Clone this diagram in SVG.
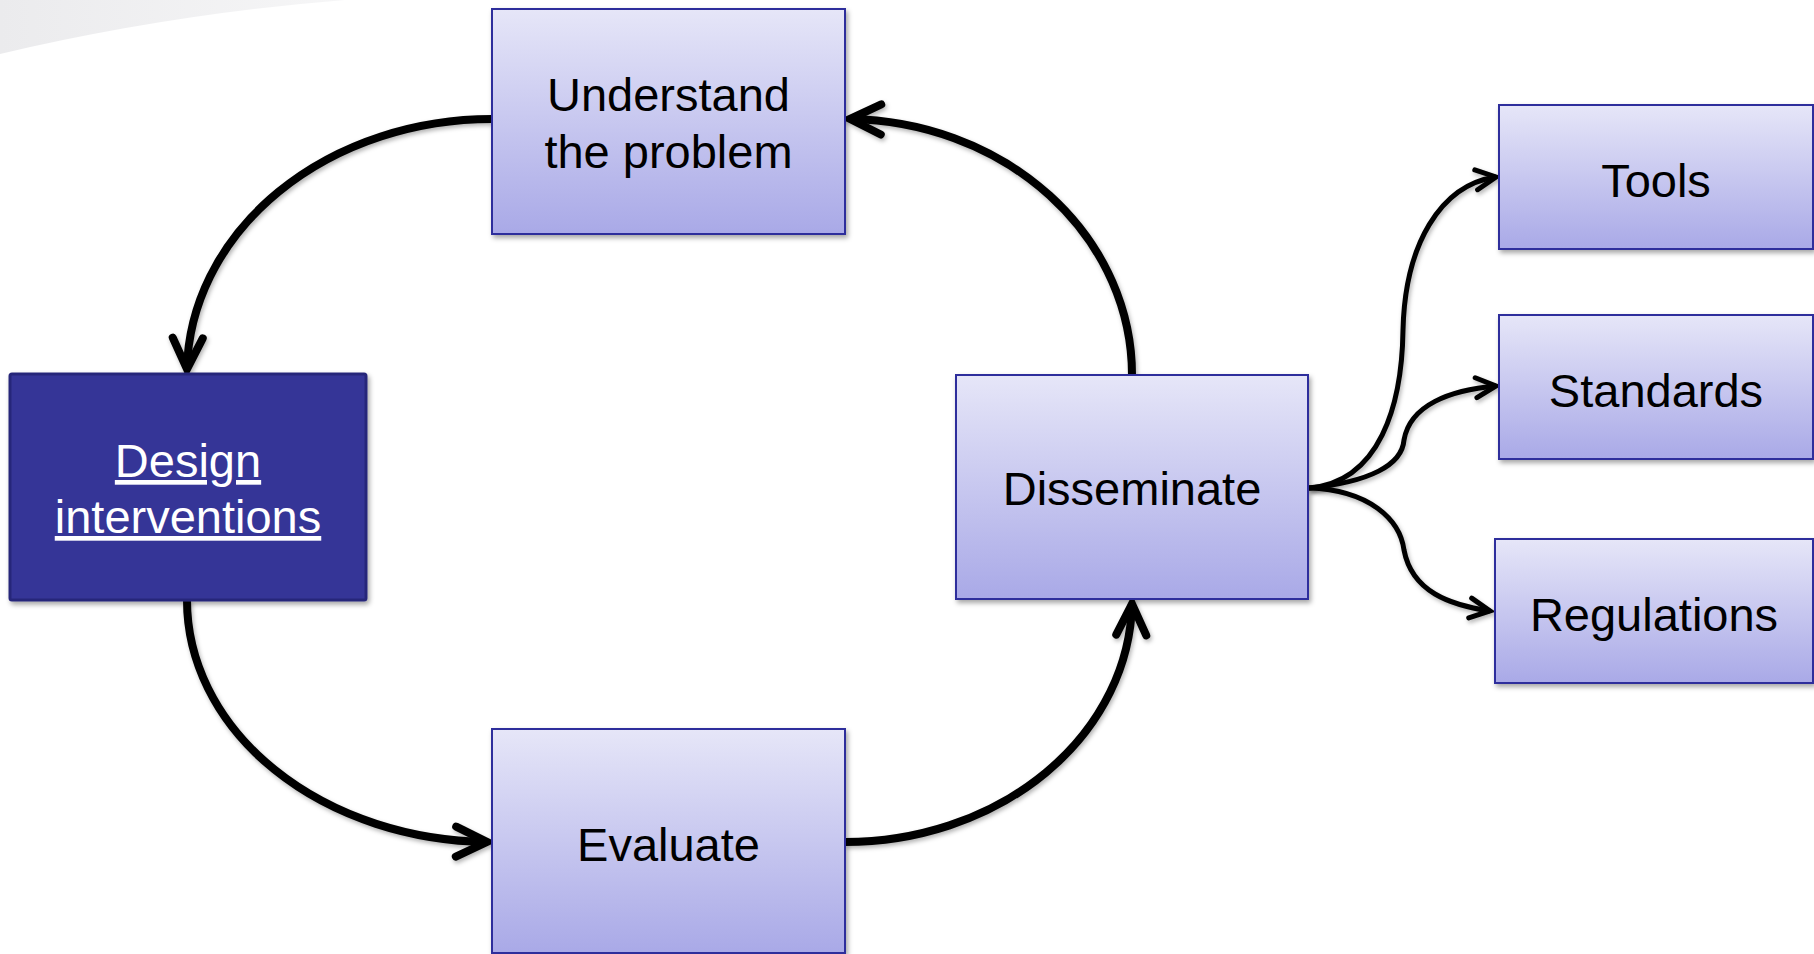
<svg xmlns="http://www.w3.org/2000/svg" width="1814" height="954" viewBox="0 0 1814 954">
  <defs>
    <linearGradient id="boxGrad" x1="0" y1="0" x2="0" y2="1">
      <stop offset="0" stop-color="#e6e6f8"/>
      <stop offset="1" stop-color="#a9a9e7"/>
    </linearGradient>
    <linearGradient id="swoosh" x1="0" y1="0" x2="1" y2="0">
      <stop offset="0" stop-color="#ebebed"/>
      <stop offset="1" stop-color="#f6f6f7"/>
    </linearGradient>
    <filter id="shadow" x="-10%" y="-10%" width="130%" height="130%">
      <feDropShadow dx="2" dy="3" stdDeviation="2.5" flood-color="#000" flood-opacity="0.35"/>
    </filter>
    <filter id="lshadow" x="-10%" y="-10%" width="130%" height="130%">
      <feDropShadow dx="1.5" dy="2.5" stdDeviation="2" flood-color="#000" flood-opacity="0.3"/>
    </filter>
    <marker id="arrowBig" markerUnits="userSpaceOnUse" markerWidth="60" markerHeight="60" refX="0" refY="0" viewBox="-45 -30 60 60" orient="auto" overflow="visible">
      <path d="M-31,-15 L0,0 L-31,15" fill="none" stroke="#000" stroke-width="8" stroke-linecap="round" stroke-linejoin="miter"/>
    </marker>
    <marker id="arrowSmall" markerUnits="userSpaceOnUse" markerWidth="40" markerHeight="40" refX="0" refY="0" viewBox="-30 -20 40 40" orient="auto" overflow="visible">
      <path d="M-20,-10 L0,0 L-20,10" fill="none" stroke="#000" stroke-width="5" stroke-linecap="round"/>
    </marker>
  </defs>
  <style>
    .box { fill: url(#boxGrad); stroke: #2f2f9c; stroke-width: 2; filter: url(#shadow); }
    .dark { fill: #353597; stroke: #28287a; stroke-width: 3; filter: url(#shadow); }
    .lbl { font-family: "Liberation Sans", Arial, sans-serif; font-size: 47px; fill: #000; text-anchor: middle; }
    .wlbl { font-family: "Liberation Sans", Arial, sans-serif; font-size: 47px; fill: #fff; text-anchor: middle; text-decoration: underline; }
    .main { fill: none; stroke: #000; stroke-width: 8; filter: url(#lshadow); }
    .thin { fill: none; stroke: #000; stroke-width: 5; filter: url(#lshadow); }
  </style>

  <rect x="0" y="0" width="1814" height="954" fill="#ffffff"/>
  <path d="M0,0 L345,0 Q170,14 0,54 Z" fill="url(#swoosh)"/>

  <g id="connectors">
    <path class="main" d="M492,119 A305 255 0 0 0 187,369" marker-end="url(#arrowBig)"/>
    <path class="main" d="M1132,375 A287 256 0 0 0 850,119" marker-end="url(#arrowBig)"/>
    <path class="main" d="M187,600 A305 242 0 0 0 487,842" marker-end="url(#arrowBig)"/>
    <path class="main" d="M845,842 A287 243 0 0 0 1132,604" marker-end="url(#arrowBig)"/>
    <path class="thin" d="M1309,488 C1380,482 1402,405 1403,330 C1405,245 1440,185 1496,177" marker-end="url(#arrowSmall)"/>
    <path class="thin" d="M1309,488 C1370,482 1402,465 1404,440 C1410,405 1450,390 1496,386" marker-end="url(#arrowSmall)"/>
    <path class="thin" d="M1309,488 C1370,490 1400,520 1404,550 C1412,592 1450,605 1490,611" marker-end="url(#arrowSmall)"/>
  </g>

  <g id="node-understand">
    <rect class="box" x="492" y="9" width="353" height="225"/>
    <text class="lbl" x="668.5" y="111">Understand</text>
    <text class="lbl" x="668.5" y="168">the problem</text>
  </g>

  <g id="node-design">
    <rect class="dark" x="10" y="374" width="356" height="226" rx="2"/>
    <text class="wlbl" x="188" y="477">Design</text>
    <text class="wlbl" x="188" y="533">interventions</text>
  </g>

  <g id="node-disseminate">
    <rect class="box" x="956" y="375" width="352" height="224"/>
    <text class="lbl" x="1132" y="505">Disseminate</text>
  </g>

  <g id="node-evaluate">
    <rect class="box" x="492" y="729" width="353" height="224"/>
    <text class="lbl" x="668.5" y="861">Evaluate</text>
  </g>

  <g id="node-tools">
    <rect class="box" x="1499" y="105" width="314" height="144"/>
    <text class="lbl" x="1656" y="197">Tools</text>
  </g>

  <g id="node-standards">
    <rect class="box" x="1499" y="315" width="314" height="144"/>
    <text class="lbl" x="1656" y="407">Standards</text>
  </g>

  <g id="node-regulations">
    <rect class="box" x="1495" y="539" width="318" height="144"/>
    <text class="lbl" x="1654" y="631">Regulations</text>
  </g>
</svg>
